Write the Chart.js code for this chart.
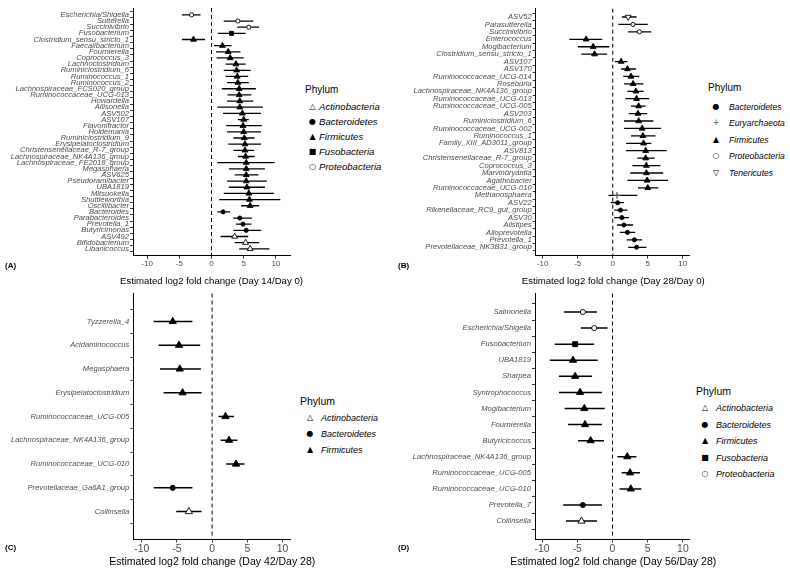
<!DOCTYPE html>
<html>
<head>
<meta charset="utf-8">
<script src="https://cdn.jsdelivr.net/npm/chart.js"></script>
<style>
  body { margin: 0; background: #fff; }
  #page { position: relative; width: 790px; height: 572px; overflow: hidden; font-family: 'Liberation Sans', Arial, sans-serif; }
  canvas { position: absolute; }
  .tag { position: absolute; font-size: 8px; font-weight: bold; line-height: 10px; }
  .lg { position: absolute; white-space: nowrap; color: #000; }
  .xt { position: absolute; white-space: nowrap; color: #000; width: 300px; text-align: center; line-height: 16px; }
  .sym { position: absolute; font-family: 'DejaVu Sans', sans-serif; text-align: center; width: 12px; }
</style>
</head>
<body>
<div id="page"></div>
<script>
'use strict';

const xTicks = [-10, -5, 0, 5, 10];

// (A) Day 14 / Day 0
const aCats = ['Escherichia/Shigella', 'Sutterella', 'Succinivibrio', 'Fusobacterium', 'Clostridium_sensu_stricto_1',
  'Faecalibacterium', 'Fournierella', 'Coprococcus_3', 'Lachnoclostridium', 'Ruminiclostridium_6', 'Ruminococcus_1',
  'Ruminococcus_2', 'Lachnospiraceae_FCS020_group', 'Ruminococcaceae_UCG-013', 'Howardella', 'Allisonella', 'ASV502',
  'ASV107', 'Flavonifractor', 'Holdemania', 'Ruminiclostridium_9', 'Erysipelatoclostridium',
  'Christensenellaceae_R-7_group', 'Lachnospiraceae_NK4A136_group', 'Lachnospiraceae_FE2018_group', 'Megasphaera',
  'ASV625', 'Pseudoramibacter', 'UBA1819', 'Mitsuokella', 'Shuttleworthia', 'Oscillibacter', 'Bacteroides',
  'Parabacteroides', 'Prevotella_1', 'Butyricimonas', 'ASV492', 'Bifidobacterium', 'Libanicoccus'];
const aEst = [-3.1, 4.1, 5.8, 3.1, -2.8, 1.7, 2.6, 2.9, 3.8, 3.9, 4.0, 4.1, 4.3, 4.3, 4.4, 4.4, 4.8, 5.0, 4.9, 5.0,
  5.1, 5.2, 5.2, 5.3, 5.4, 5.4, 5.4, 5.4, 5.5, 5.8, 5.9, 6.0, 1.8, 4.4, 4.9, 5.4, 3.6, 5.3, 6.0];
const aLow = [-4.6, 1.9, 4.0, 1.0, -4.6, 0.4, 0.7, 0.8, 2.2, 1.9, 2.2, 2.4, 1.6, 2.5, 2.4, 0.9, 1.8, 4.1, 2.3, 2.4,
  3.4, 2.6, 3.4, 4.1, 0.9, 2.7, 3.6, 2.4, 2.7, 1.9, 1.2, 4.6, 0.9, 3.4, 3.8, 3.4, 1.4, 3.6, 4.3];
const aHigh = [-1.7, 6.5, 7.4, 5.3, -1.0, 3.1, 4.5, 5.0, 5.3, 6.1, 5.7, 5.8, 6.9, 6.2, 6.5, 8.0, 7.7, 5.8, 7.8, 7.7,
  6.7, 7.7, 6.6, 6.7, 9.8, 8.3, 7.3, 8.6, 8.3, 9.7, 10.7, 7.4, 2.9, 6.3, 6.2, 7.7, 5.7, 7.4, 9.0];
const aPhylum = ['Proteobacteria', 'Proteobacteria', 'Proteobacteria', 'Fusobacteria']
  .concat(Array(28).fill('Firmicutes'), Array(4).fill('Bacteroidetes'), Array(3).fill('Actinobacteria'));
const aLegend = ['Actinobacteria', 'Bacteroidetes', 'Firmicutes', 'Fusobacteria', 'Proteobacteria'];

// (B) Day 28 / Day 0
const bCats = ['ASV52', 'Parasutterella', 'Succinivibrio', 'Enterococcus', 'Mogibacterium', 'Clostridium_sensu_stricto_1',
  'ASV107', 'ASV170', 'Ruminococcaceae_UCG-014', 'Roseburia', 'Lachnospiraceae_NK4A136_group', 'Ruminococcaceae_UCG-013',
  'Ruminococcaceae_UCG-005', 'ASV203', 'Ruminiclostridium_6', 'Ruminococcaceae_UCG-002', 'Ruminococcus_1',
  'Family_XIII_AD3011_group', 'ASV813', 'Christensenellaceae_R-7_group', 'Coprococcus_3', 'Marvinbryantia',
  'Agathobacter', 'Ruminococcaceae_UCG-010', 'Methanosphaera', 'ASV22', 'Rikenellaceae_RC9_gut_group', 'ASV30',
  'Alistipes', 'Alloprevotella', 'Prevotella_1', 'Prevotellaceae_NK3B31_group'];
const bEst = [2.2, 2.9, 3.8, -3.8, -2.8, -2.6, 1.2, 2.1, 2.6, 2.9, 3.3, 3.4, 3.7, 3.6, 3.7, 4.2, 4.3, 4.4, 4.7, 4.7,
  4.8, 4.8, 4.9, 5.0, 0.6, 0.7, 1.1, 1.3, 1.6, 2.1, 3.1, 3.4];
const bLow = [1.3, 0.8, 2.2, -6.2, -5.0, -4.5, 0.3, 1.2, 1.5, 1.6, 2.1, 1.8, 2.6, 2.3, 1.6, 1.6, 2.6, 1.9, 1.9, 3.5,
  2.8, 2.5, 2.1, 3.6, -0.6, -0.3, 0.2, 0.2, 0.6, 1.0, 2.0, 2.2];
const bHigh = [3.4, 5.0, 5.5, -1.5, -0.5, -0.8, 2.1, 3.3, 3.8, 4.4, 4.4, 5.2, 4.7, 4.9, 5.8, 6.9, 6.1, 5.5, 7.7, 6.0,
  6.8, 7.2, 7.9, 6.5, 3.5, 1.6, 2.1, 2.3, 2.9, 3.2, 4.2, 4.8];
const bPhylum = ['Tenericutes', 'Proteobacteria', 'Proteobacteria']
  .concat(Array(21).fill('Firmicutes'), ['Euryarchaeota'], Array(7).fill('Bacteroidetes'));
const bLegend = ['Bacteroidetes', 'Euryarchaeota', 'Firmicutes', 'Proteobacteria', 'Tenericutes'];

// (C) Day 42 / Day 28
const cCats = ['Tyzzerella_4', 'Acidaminococcus', 'Megasphaera', 'Erysipelatoclostridium', 'Ruminococcaceae_UCG-005',
  'Lachnospiraceae_NK4A136_group', 'Ruminococcaceae_UCG-010', 'Prevotellaceae_Ga6A1_group', 'Collinsella'];
const cEst = [-5.6, -4.7, -4.6, -4.2, 1.9, 2.4, 3.4, -5.6, -3.3];
const cLow = [-8.3, -7.6, -7.4, -6.9, 0.9, 1.2, 2.0, -8.3, -5.1];
const cHigh = [-2.8, -1.7, -1.6, -1.5, 3.1, 3.6, 4.6, -2.8, -1.5];
const cPhylum = Array(7).fill('Firmicutes').concat(['Bacteroidetes', 'Actinobacteria']);
const cLegend = ['Actinobacteria', 'Bacteroidetes', 'Firmicutes'];

// (D) Day 56 / Day 28
const dCats = ['Salmonella', 'Escherichia/Shigella', 'Fusobacterium', 'UBA1819', 'Sharpea', 'Syntrophococcus',
  'Mogibacterium', 'Fournierella', 'Butyricicoccus', 'Lachnospiraceae_NK4A136_group', 'Ruminococcaceae_UCG-005',
  'Ruminococcaceae_UCG-010', 'Prevotella_7', 'Collinsella'];
const dEst = [-4.2, -2.6, -5.3, -5.6, -5.3, -4.6, -4.0, -3.9, -3.1, 2.1, 2.5, 2.6, -4.2, -4.4];
const dLow = [-6.9, -4.5, -8.2, -8.9, -7.6, -7.6, -6.8, -6.3, -4.9, 0.7, 1.3, 1.0, -7.0, -6.6];
const dHigh = [-2.2, -0.7, -2.6, -2.1, -2.9, -1.5, -1.1, -1.5, -1.2, 3.4, 3.9, 4.1, -1.5, -2.2];
const dPhylum = ['Proteobacteria', 'Proteobacteria', 'Fusobacteria']
  .concat(Array(9).fill('Firmicutes'), ['Bacteroidetes', 'Actinobacteria']);
const dLegend = ['Actinobacteria', 'Bacteroidetes', 'Firmicutes', 'Fusobacteria', 'Proteobacteria'];

const shapes = {
  Actinobacteria: {style: 'triangle', fill: '#fff', rot: 0, glyph: '\u25B3', k: 1.3},
  Bacteroidetes: {style: 'circle', fill: '#000', rot: 0, glyph: '\u25CF', k: 0.8},
  Firmicutes: {style: 'triangle', fill: '#000', rot: 0, glyph: '\u25B2', k: 1.3},
  Fusobacteria: {style: 'rect', fill: '#000', rot: 0, glyph: '\u25A0', k: 1.1},
  Proteobacteria: {style: 'circle', fill: '#fff', rot: 0, glyph: '\u25CB', k: 0.8},
  Tenericutes: {style: 'triangle', fill: '#fff', rot: 180, glyph: '\u25BD', k: 1.3},
  Euryarchaeota: {style: 'cross', fill: '#555', rot: 0, glyph: '+', k: 1.3}
};

const zeroLine = {
  id: 'zeroLine',
  beforeDatasetsDraw(chart) {
    const ctx = chart.ctx;
    const area = chart.chartArea;
    const x = chart.scales.x.getPixelForValue(0);
    ctx.save();
    ctx.strokeStyle = '#000';
    ctx.lineWidth = 1;
    ctx.setLineDash([4, 3]);
    ctx.beginPath();
    ctx.moveTo(x, area.top);
    ctx.lineTo(x, area.bottom);
    ctx.stroke();
    ctx.restore();
  }
};

const page = document.getElementById('page');

function addText(cls, text, left, top, extra) {
  const el = document.createElement('div');
  el.className = cls;
  el.textContent = text;
  el.style.left = left + 'px';
  el.style.top = top + 'px';
  Object.assign(el.style, extra || {});
  page.appendChild(el);
  return el;
}

function drawPanel(p) {
  const [cx, cy, cw, ch] = p.box;
  const [L, T, R, B] = p.area;
  const canvas = document.createElement('canvas');
  canvas.width = cw;
  canvas.height = ch;
  canvas.style.left = cx + 'px';
  canvas.style.top = cy + 'px';
  page.appendChild(canvas);

  const datasets = [{
    type: 'bar',
    indexAxis: 'y',
    data: p.cats.map((c, i) => ({x: [p.low[i], p.high[i]], y: i})),
    backgroundColor: '#000',
    borderWidth: 0,
    barThickness: p.barW,
    inflateAmount: 0,
    grouped: false,
    order: 2
  }];
  p.legend.forEach(name => {
    const s = shapes[name];
    const rows = [];
    p.cats.forEach((c, i) => { if (p.phylum[i] === name) rows.push({x: p.est[i], y: i}); });
    datasets.push({
      type: 'scatter',
      label: name,
      data: rows,
      pointStyle: s.style,
      pointRotation: s.rot,
      pointRadius: p.r * s.k,
      backgroundColor: s.fill,
      borderColor: name === 'Euryarchaeota' ? '#555' : '#000',
      borderWidth: name === 'Euryarchaeota' ? 1.2 : 0.9,
      order: 1
    });
  });

  const grid = {drawOnChartArea: false, tickLength: 3, color: '#333', tickWidth: 1};
  const border = {color: '#000', width: 1};

  new Chart(canvas, {
    type: 'scatter',
    data: {datasets: datasets},
    options: {
      responsive: false,
      animation: false,
      layout: {padding: {left: 0, top: T - cy, right: cx + cw - R, bottom: 0}},
      plugins: {legend: {display: false}, tooltip: {enabled: false}},
      scales: {
        x: {
          type: 'linear',
          min: -p.xMax,
          max: p.xMax,
          afterBuildTicks: axis => { axis.ticks = xTicks.map(v => ({value: v})); },
          afterFit: axis => { axis.height = cy + ch - B; },
          grid: grid,
          border: border,
          ticks: {color: '#4d4d4d', font: {family: 'Liberation Sans', size: p.tickSize}, padding: 0, autoSkip: false, maxRotation: 0}
        },
        y: {
          type: 'linear',
          reverse: true,
          min: -0.6,
          max: p.cats.length - 0.4,
          afterBuildTicks: axis => { axis.ticks = p.cats.map((c, i) => ({value: i})); },
          afterFit: axis => { axis.width = L - cx; },
          grid: grid,
          border: border,
          ticks: {callback: v => p.cats[v], autoSkip: false, color: '#4d4d4d', padding: 1,
            font: {family: 'Liberation Sans', size: 7.6, style: 'italic'}}
        }
      }
    },
    plugins: [zeroLine]
  });

  // axis title, wider than the plot area like the original
  addText('xt', p.title, (L + R) / 2 - 150, p.titleY - 8, {fontSize: p.titleSize + 'px'});
  addText('tag', p.tag, p.tagPos[0], p.tagPos[1] - 5);

  const lg = p.lg;
  addText('lg', 'Phylum', lg.x, lg.titleY - 7, {fontSize: lg.titleSize + 'px', lineHeight: '14px'});
  p.legend.forEach((name, i) => {
    const y = lg.y0 + i * lg.step;
    addText('sym', shapes[name].glyph, lg.symX - 6, y - 6,
      {fontSize: lg.symSize + 'px', lineHeight: '12px', color: name === 'Euryarchaeota' ? '#555' : '#000'});
    addText('lg', name, lg.textX, y - 6, {fontSize: lg.size + 'px', lineHeight: '12px', fontStyle: 'italic'});
  });
}

drawPanel({
  cats: aCats, est: aEst, low: aLow, high: aHigh, phylum: aPhylum, legend: aLegend,
  box: [0, 0, 296, 290], area: [133, 8, 290, 255.7], xMax: 12.2,
  r: 2.6, barW: 1.3, tickSize: 8, titleSize: 9.6, titleY: 281,
  title: 'Estimated log2 fold change (Day 14/Day 0)', tag: '(A)', tagPos: [5, 266],
  lg: {x: 305, titleY: 90, titleSize: 10, symX: 312.5, textX: 319, y0: 106.5, step: 15.2, size: 9.6, symSize: 8}
});
drawPanel({
  cats: bCats, est: bEst, low: bLow, high: bHigh, phylum: bPhylum, legend: bLegend,
  box: [395, 0, 300, 290], area: [535.7, 8.7, 690.8, 255.6], xMax: 11,
  r: 2.6, barW: 1.3, tickSize: 8, titleSize: 9.6, titleY: 281,
  title: 'Estimated log2 fold change (Day 28/Day 0)', tag: '(B)', tagPos: [398, 266],
  lg: {x: 708, titleY: 88.3, titleSize: 10, symX: 716, textX: 729, y0: 106.5, step: 16.5, size: 8.6, symSize: 8}
});
drawPanel({
  cats: cCats, est: cEst, low: cLow, high: cHigh, phylum: cPhylum, legend: cLegend,
  box: [0, 288, 296, 284], area: [133.3, 293, 291.3, 539.5], xMax: 11.2,
  r: 3.2, barW: 1.5, tickSize: 10.4, titleSize: 10.5, titleY: 561,
  title: 'Estimated log2 fold change (Day 42/Day 28)', tag: '(C)', tagPos: [5, 548],
  lg: {x: 300, titleY: 401, titleSize: 10.5, symX: 310, textX: 321, y0: 418, step: 16.2, size: 9, symSize: 8}
});
drawPanel({
  cats: dCats, est: dEst, low: dLow, high: dHigh, phylum: dPhylum, legend: dLegend,
  box: [395, 288, 300, 284], area: [535, 293, 691.6, 539.5], xMax: 11,
  r: 3.2, barW: 1.5, tickSize: 10.4, titleSize: 10.5, titleY: 561,
  title: 'Estimated log2 fold change (Day 56/Day 28)', tag: '(D)', tagPos: [398, 548],
  lg: {x: 696, titleY: 391, titleSize: 10.5, symX: 705, textX: 716, y0: 408, step: 16.5, size: 9, symSize: 8}
});
</script>
</body>
</html>
